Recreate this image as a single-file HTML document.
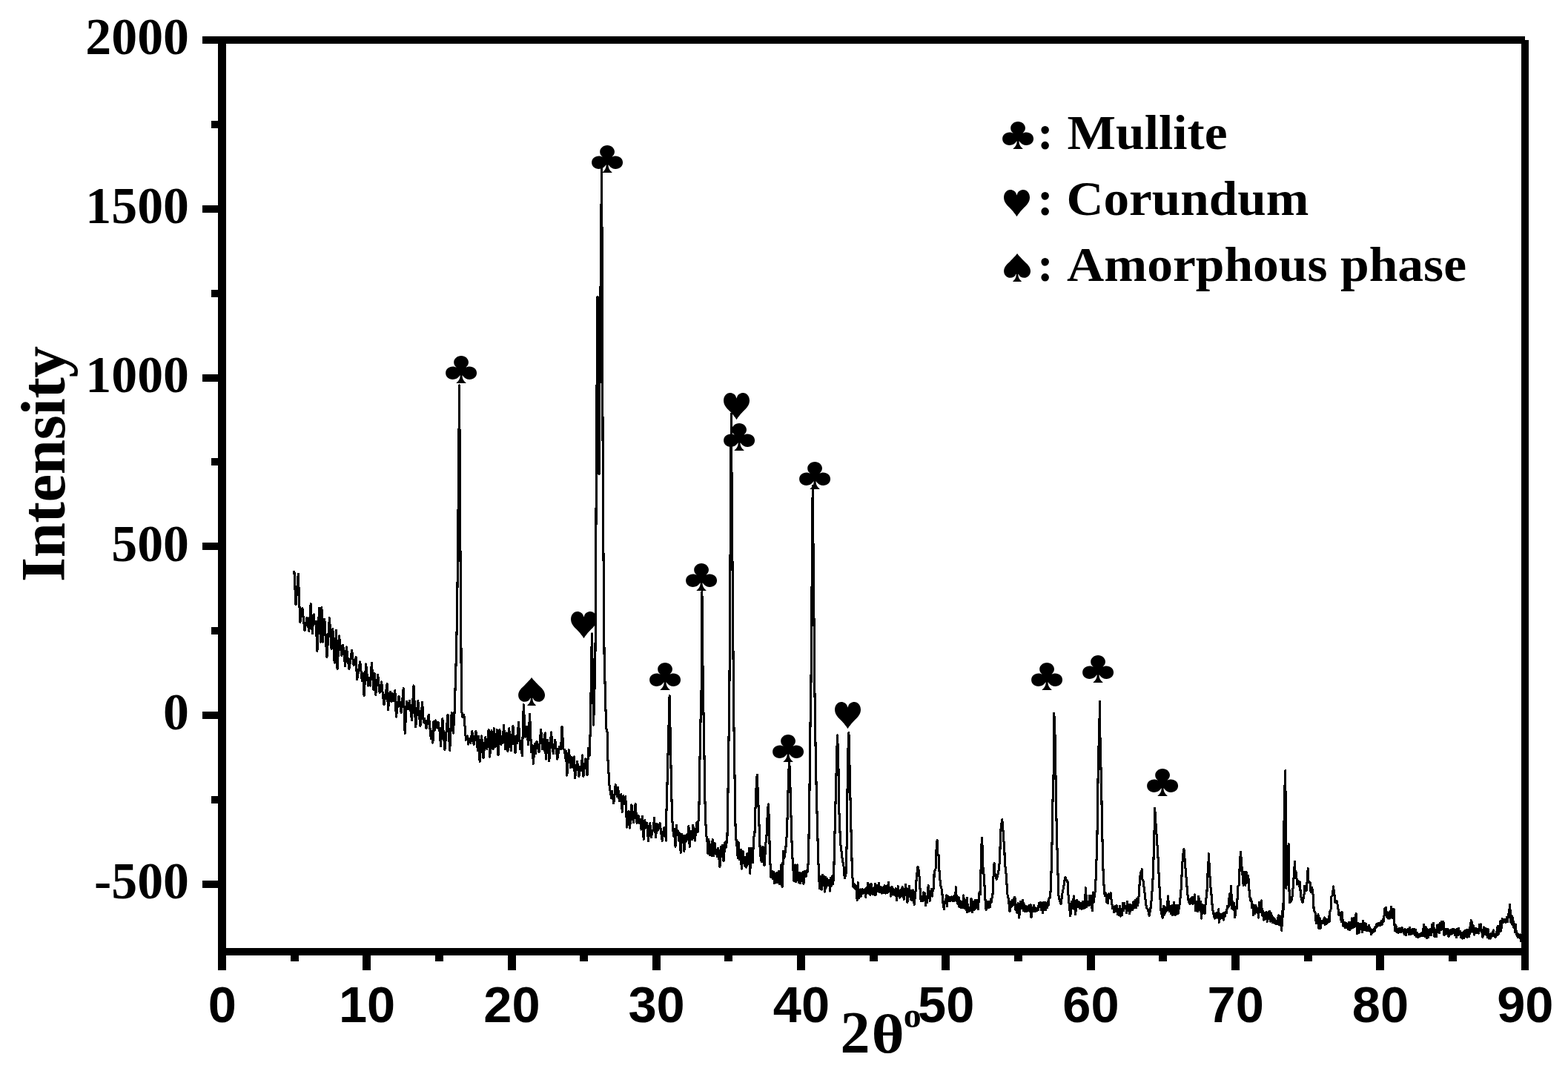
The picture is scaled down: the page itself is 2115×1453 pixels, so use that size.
<!DOCTYPE html>
<html lang="en"><head><meta charset="utf-8"><title>XRD pattern</title>
<style>html,body{margin:0;padding:0;background:#fff}svg{display:block}</style></head>
<body>
<svg width="2115" height="1453" viewBox="0 0 2115 1453">
<rect x="0" y="0" width="2115" height="1453" fill="#fff"/>
<polyline points="396.9,771.1 399.0,815.6 402.3,774.2 404.8,839.4 407.9,820.7 411.0,850.7 414.1,833.1 416.8,851.7 419.2,814.5 421.3,854.8 423.1,828.9 424.5,841.4 426.2,838.2 427.9,878.6 430.6,820.7 432.7,866.2 433.9,819.6 435.3,866.2 437.8,835.1 440.9,886.8 444.4,833.7 447.1,875.5 448.8,848.5 451.2,894.1 453.6,850.6 455.1,902.9 457.4,857.8 460.9,884.8 462.6,870.2 465.7,898.8 467.3,872.9 470.9,902.9 474.6,877.5 477.0,897.2 480.1,886.7 481.6,916.8 485.7,892.9 488.4,918.8 489.8,908.4 491.1,938.5 493.6,896.0 496.7,925.0 498.1,914.6 499.3,925.0 501.4,894.4 503.9,930.2 505.2,908.4 506.7,937.4 509.7,910.1 512.1,934.3 514.6,919.8 517.9,950.9 522.1,922.9 523.5,957.5 526.2,933.2 527.8,946.7 529.0,935.3 530.4,945.7 532.8,931.6 534.4,967.0 538.0,939.4 541.1,961.2 544.2,928.7 546.2,989.7 548.5,946.6 550.1,957.0 552.4,945.6 555.5,971.5 558.0,924.9 560.7,980.8 563.8,945.6 566.9,979.8 569.6,947.7 571.3,974.6 572.7,969.3 575.1,982.9 578.2,964.2 581.3,996.3 582.9,986.9 583.9,1002.1 584.8,973.5 586.1,986.0 587.8,972.0 589.3,981.8 591.0,974.5 592.3,986.0 593.1,982.8 594.4,1006.6 596.8,969.3 599.9,1011.8 604.0,964.6 606.7,1012.4 609.2,961.7 611.3,989.1 613.0,962.0 614.5,915.0 615.5,880.0 616.5,830.0 617.5,750.0 619.6,520.0 621.0,750.0 622.0,880.0 622.3,953.0 622.7,957.9 623.6,967.3 625.8,964.1 628.5,998.3 630.3,993.0 631.7,1004.0 633.3,996.1 634.8,1002.4 636.8,986.8 639.2,1004.5 641.9,986.8 644.4,1012.7 645.8,993.0 647.1,1027.6 649.6,993.0 652.0,1022.6 654.7,994.7 656.8,1010.6 659.1,984.7 660.7,1021.0 663.0,985.8 665.0,1010.6 666.3,982.7 668.1,1007.6 670.5,984.7 672.0,1018.9 673.9,984.7 675.8,1004.5 677.0,993.0 678.2,1002.4 679.5,978.1 681.6,1010.6 683.6,988.9 684.9,1013.7 686.7,982.7 689.4,1012.7 691.9,979.6 695.0,1015.8 696.5,993.0 697.6,1002.4 699.5,974.4 701.6,1010.6 702.8,999.2 704.3,1019.9 706.3,950.7 708.4,994.1 710.5,980.6 712.5,1004.5 714.6,963.7 716.7,1014.8 718.1,1005.4 719.4,1030.3 721.2,1003.3 722.5,1016.8 723.9,1000.2 727.0,1014.8 729.7,984.3 731.5,1010.6 732.8,997.1 734.1,1012.7 735.1,988.9 736.3,1024.1 738.8,998.2 740.8,1026.8 743.5,987.8 746.2,1016.8 748.7,998.2 751.8,1024.1 754.4,1007.5 756.6,1010.6 758.0,980.6 760.0,1010.6 761.6,1011.6 762.6,1023.0 763.5,1013.6 764.8,1046.2 767.3,1011.6 769.6,1035.4 771.1,1021.9 772.8,1035.4 774.1,1020.9 775.5,1049.9 778.6,1027.1 780.9,1047.8 782.5,1034.3 784.2,1039.6 785.4,1018.8 786.9,1047.8 789.6,1024.0 792.0,1045.8 793.7,1009.5 795.0,1020.0 796.5,980.0 797.5,900.0 798.4,855.0 799.5,920.0 800.6,978.0 802.8,900.0 803.6,800.0 804.0,700.0 804.5,600.0 805.2,500.0 806.0,400.0 807.0,520.0 808.0,640.0 809.5,450.0 811.5,227.0 812.5,400.0 813.3,680.0 814.5,800.0 815.0,880.0 816.8,952.0 817.8,983.0 819.2,988.0 819.9,1024.0 822.0,1060.0 824.0,1072.0 824.6,1076.7 825.5,1067.3 827.8,1084.0 830.2,1058.7 832.3,1074.7 833.6,1062.2 835.4,1080.9 837.7,1071.5 839.3,1095.3 840.9,1073.5 842.2,1085.0 843.7,1074.6 845.7,1116.0 848.0,1094.2 849.6,1117.0 851.9,1085.9 854.4,1109.8 857.1,1084.9 859.1,1110.8 861.2,1100.4 862.5,1110.8 863.6,1105.5 865.0,1119.1 866.6,1101.4 868.2,1132.5 869.7,1106.6 871.3,1116.0 872.8,1110.7 874.4,1134.5 876.7,1110.7 878.5,1129.4 879.8,1121.0 881.2,1120.1 882.5,1103.5 884.5,1129.4 886.3,1111.7 887.7,1120.1 890.1,1110.7 893.2,1134.5 895.7,1116.9 896.9,1128.3 898.1,1114.8 898.6,1126.3 898.2,1111.1 898.6,1124.7 898.2,1103.9 898.6,1128.8 898.2,1111.1 898.6,1122.6 898.2,1111.1 898.6,1128.8 898.4,1111.1 898.4,1134.0 898.4,1117.3 898.2,1126.7 898.6,1115.3 898.6,1105.5 899.6,1074.5 900.6,1033.2 901.7,991.9 903.1,938.7 904.6,1012.6 905.4,1053.9 906.4,1095.2 907.3,1115.8 908.3,1124.1 909.0,1128.8 909.7,1118.4 911.0,1142.2 912.5,1113.2 913.6,1126.7 914.9,1121.5 916.1,1135.0 917.0,1124.6 918.2,1150.5 919.7,1125.6 920.9,1137.0 921.7,1127.7 922.9,1148.4 924.4,1127.7 925.7,1135.0 926.9,1125.6 928.1,1132.9 928.9,1114.2 930.2,1142.2 932.0,1121.5 933.3,1132.9 934.7,1113.2 937.4,1134.0 939.9,1109.1 941.2,1122.6 941.9,1108.0 942.6,1105.5 943.2,1074.5 943.8,1033.2 944.6,991.9 945.5,950.6 946.1,930.0 946.9,798.0 948.3,930.0 949.2,971.3 950.2,1033.2 950.8,1074.5 951.6,1105.5 952.7,1126.2 953.9,1133.4 954.9,1151.5 955.9,1132.8 957.4,1153.6 958.7,1140.0 960.0,1154.6 961.1,1132.8 962.6,1154.6 964.1,1137.0 965.2,1151.5 966.2,1146.2 967.2,1155.6 968.8,1144.2 970.9,1169.7 972.8,1142.1 973.9,1155.6 974.8,1140.0 976.0,1161.8 978.1,1135.9 979.6,1143.2 980.3,1133.9 980.8,1136.5 981.6,1095.2 982.2,1053.9 982.8,1012.6 983.9,930.0 986.3,558.0 989.4,930.0 989.8,971.3 990.5,1012.6 991.1,1053.9 991.5,1095.2 992.1,1115.8 993.2,1136.5 994.6,1144.7 995.2,1157.7 996.0,1135.9 997.7,1159.8 999.2,1146.2 1000.3,1172.2 1002.2,1148.3 1004.3,1168.0 1005.9,1156.6 1006.9,1170.1 1007.8,1151.4 1009.0,1166.0 1010.5,1144.2 1011.7,1178.3 1013.2,1144.2 1015.2,1163.9 1016.7,1129.7 1017.9,1126.2 1018.8,1095.2 1020.0,1064.2 1021.2,1045.2 1022.5,1074.5 1023.5,1099.3 1024.5,1126.2 1025.2,1146.8 1026.2,1157.1 1027.2,1162.9 1029.1,1142.1 1031.1,1168.0 1032.8,1138.0 1033.8,1132.4 1034.9,1105.5 1036.3,1084.9 1037.3,1105.5 1038.0,1136.5 1038.6,1157.1 1039.4,1173.7 1040.0,1184.0 1040.7,1183.5 1041.4,1175.2 1042.6,1185.6 1043.6,1176.2 1044.6,1191.8 1045.8,1178.2 1047.1,1190.7 1048.2,1177.2 1049.2,1190.7 1050.2,1175.2 1051.8,1192.8 1053.9,1166.9 1055.1,1196.9 1056.5,1148.3 1058.0,1157.1 1059.6,1146.8 1061.3,1126.2 1062.3,1095.2 1063.4,1053.9 1064.6,1024.0 1065.8,1053.9 1066.5,1086.9 1067.5,1115.8 1068.3,1146.8 1069.6,1167.5 1071.0,1188.7 1072.5,1166.9 1073.6,1189.7 1075.1,1166.9 1077.2,1190.7 1078.7,1177.2 1079.8,1191.8 1080.8,1178.2 1081.8,1186.6 1082.9,1176.2 1083.9,1192.8 1085.5,1175.2 1087.0,1182.5 1088.0,1174.1 1089.0,1176.3 1089.8,1169.0 1090.6,1157.1 1091.2,1115.8 1091.9,1074.5 1092.3,1033.2 1093.1,971.3 1093.9,930.0 1096.2,655.0 1098.9,930.0 1099.5,971.3 1100.3,1022.9 1101.4,1074.5 1102.6,1115.8 1103.6,1157.1 1104.7,1181.9 1105.5,1198.4 1106.3,1199.0 1107.7,1182.4 1108.7,1200.0 1109.7,1180.3 1110.7,1194.9 1111.8,1182.4 1112.8,1203.1 1113.8,1183.4 1114.9,1196.9 1115.8,1185.5 1117.0,1194.9 1118.5,1187.5 1119.7,1202.1 1120.7,1184.4 1121.7,1194.9 1122.8,1181.3 1123.7,1192.8 1124.7,1177.8 1125.7,1136.5 1126.7,1095.2 1127.8,1053.9 1128.8,1012.6 1129.6,991.9 1130.9,1033.2 1131.9,1095.2 1133.6,1136.5 1136.0,1157.1 1138.1,1169.5 1139.3,1185.0 1141.2,1177.8 1142.2,1136.5 1142.9,1074.5 1143.9,1012.6 1144.9,988.6 1146.0,1033.2 1147.4,1095.2 1148.4,1136.5 1149.5,1177.8 1150.9,1196.4 1152.1,1192.7 1153.0,1199.0 1154.6,1194.8 1156.2,1214.5 1157.2,1190.6 1158.8,1211.4 1160.2,1199.9 1161.5,1209.3 1163.1,1199.9 1164.7,1205.2 1166.4,1199.9 1167.7,1210.4 1168.6,1197.9 1169.6,1205.2 1170.6,1191.7 1171.7,1205.2 1172.6,1193.7 1173.9,1207.3 1175.5,1192.7 1177.1,1206.2 1178.8,1197.9 1180.0,1207.3 1180.5,1192.5 1181.5,1207.0 1182.8,1194.6 1184.1,1202.9 1185.5,1191.5 1186.8,1204.0 1188.2,1196.6 1189.5,1205.0 1190.7,1197.7 1191.9,1205.0 1193.1,1194.6 1194.4,1205.0 1195.8,1195.6 1197.1,1205.0 1198.3,1190.4 1199.5,1202.9 1200.6,1197.7 1201.8,1209.1 1203.1,1196.6 1204.3,1207.0 1205.5,1199.7 1206.8,1207.0 1208.2,1198.7 1209.5,1214.9 1211.3,1195.6 1213.4,1211.2 1214.7,1200.8 1215.8,1209.1 1217.1,1196.6 1219.2,1213.2 1221.6,1193.5 1223.9,1217.4 1226.4,1195.6 1228.3,1213.2 1229.4,1201.8 1230.4,1214.3 1231.5,1200.8 1233.2,1220.5 1235.4,1198.2 1236.4,1181.7 1237.8,1171.0 1238.1,1169.3 1239.5,1175.5 1240.6,1190.0 1241.4,1206.5 1242.2,1215.8 1243.7,1210.0 1244.6,1215.3 1245.5,1203.9 1246.5,1214.3 1247.6,1204.9 1248.6,1221.5 1249.6,1210.0 1250.7,1217.4 1252.2,1194.6 1254.3,1215.3 1256.3,1199.7 1257.4,1209.1 1258.2,1199.7 1259.7,1198.2 1260.1,1177.6 1262.2,1171.4 1262.8,1148.7 1264.1,1133.6 1264.1,1144.5 1264.9,1153.8 1266.2,1153.8 1266.6,1169.3 1267.8,1185.8 1269.1,1196.2 1270.7,1201.3 1271.5,1214.7 1273.3,1226.7 1274.4,1216.2 1275.4,1217.4 1276.5,1208.0 1277.5,1222.5 1278.6,1209.0 1279.9,1215.3 1281.1,1210.0 1282.5,1215.3 1283.8,1210.0 1285.1,1215.3 1286.3,1209.0 1287.5,1215.3 1288.3,1212.1 1288.7,1213.2 1289.3,1196.6 1290.0,1215.3 1290.8,1208.0 1292.0,1219.4 1293.0,1210.0 1294.0,1223.6 1295.1,1215.2 1296.4,1224.6 1297.6,1216.2 1298.5,1224.6 1299.7,1208.0 1301.2,1225.6 1302.4,1214.2 1303.4,1227.7 1304.3,1211.1 1304.8,1230.8 1305.7,1220.4 1306.8,1229.8 1307.9,1224.5 1308.8,1228.7 1310.0,1212.1 1311.4,1230.8 1312.7,1216.2 1314.0,1227.7 1315.2,1214.2 1316.2,1225.6 1317.4,1214.2 1319.3,1226.7 1321.0,1203.9 1322.5,1206.5 1323.1,1171.4 1323.7,1144.5 1324.5,1130.5 1325.2,1144.5 1326.0,1171.4 1327.3,1181.7 1328.1,1196.2 1328.9,1212.7 1330.0,1227.1 1331.2,1225.6 1332.2,1216.2 1333.3,1224.6 1334.3,1216.2 1335.4,1223.6 1336.3,1213.1 1337.1,1217.4 1337.9,1212.1 1339.0,1206.5 1339.8,1185.8 1341.1,1164.6 1341.3,1175.5 1344.3,1186.5 1346.9,1175.5 1348.5,1161.1 1349.3,1134.2 1350.2,1115.6 1351.4,1108.4 1351.7,1105.7 1352.7,1115.6 1353.7,1132.1 1354.8,1144.5 1355.4,1165.2 1356.8,1175.5 1357.8,1190.0 1358.9,1206.5 1360.3,1212.7 1362.1,1229.8 1363.2,1216.2 1364.2,1223.6 1365.3,1214.2 1366.3,1221.5 1367.3,1212.1 1368.0,1220.5 1368.9,1210.0 1370.0,1227.7 1371.0,1220.4 1372.1,1231.8 1373.1,1218.3 1374.7,1238.0 1376.7,1216.2 1378.6,1225.6 1379.8,1214.2 1380.7,1228.7 1381.8,1220.4 1382.8,1229.8 1383.8,1222.4 1384.9,1229.8 1385.9,1223.5 1386.9,1228.7 1388.0,1221.4 1389.0,1229.8 1390.0,1220.4 1391.0,1238.0 1392.2,1224.5 1393.4,1229.8 1394.7,1221.4 1396.2,1229.8 1397.3,1225.5 1398.3,1228.7 1399.3,1225.5 1400.4,1227.7 1401.4,1218.3 1402.4,1223.6 1403.5,1217.3 1404.5,1227.7 1405.5,1218.3 1406.6,1231.8 1407.6,1217.3 1408.6,1227.7 1409.7,1217.3 1410.7,1227.7 1411.7,1218.3 1412.8,1224.6 1413.7,1216.2 1414.3,1221.5 1415.1,1211.1 1416.7,1210.6 1417.7,1185.8 1418.5,1161.1 1419.1,1134.2 1419.7,1092.9 1420.6,1057.8 1421.2,1041.3 1421.8,1000.0 1421.8,962.0 1423.3,1000.0 1423.9,1041.3 1424.7,1092.9 1425.7,1134.2 1426.6,1165.2 1427.2,1185.8 1427.6,1204.4 1428.2,1210.6 1431.1,1219.9 1432.7,1206.5 1434.8,1196.2 1436.2,1185.8 1437.2,1183.4 1438.5,1187.9 1440.0,1188.9 1440.6,1202.4 1441.6,1214.7 1443.8,1236.0 1445.2,1216.2 1446.4,1225.6 1448.5,1209.0 1450.6,1233.9 1452.6,1214.2 1453.9,1223.6 1455.1,1216.2 1456.4,1225.6 1457.6,1218.3 1458.9,1226.7 1460.3,1216.2 1461.5,1225.6 1462.5,1217.3 1463.4,1224.6 1464.4,1197.7 1465.9,1223.6 1467.1,1216.2 1468.6,1221.5 1469.8,1208.0 1470.7,1220.5 1471.8,1208.0 1473.3,1228.7 1474.3,1203.9 1475.2,1217.4 1477.1,1202.4 1478.1,1185.8 1479.2,1154.9 1480.0,1123.9 1480.6,1082.6 1481.2,1041.3 1481.8,1010.3 1482.5,1000.0 1483.5,946.5 1484.0,1000.0 1484.6,1020.6 1485.4,1051.6 1486.0,1082.6 1486.8,1123.9 1487.7,1165.2 1488.5,1185.8 1489.3,1198.2 1490.2,1208.5 1491.8,1204.9 1492.8,1217.4 1493.5,1208.0 1494.4,1218.4 1495.4,1205.9 1496.6,1211.2 1498.2,1204.9 1499.2,1215.3 1499.7,1218.3 1500.6,1225.6 1501.6,1223.5 1502.8,1230.8 1504.1,1222.4 1505.3,1229.8 1506.2,1221.4 1507.3,1233.9 1508.3,1226.6 1509.3,1234.9 1510.4,1222.4 1511.4,1236.0 1512.4,1226.6 1513.5,1234.9 1514.5,1218.3 1515.5,1228.7 1516.6,1218.3 1517.6,1225.6 1518.6,1222.4 1519.7,1231.8 1520.7,1216.2 1521.7,1228.7 1522.8,1220.4 1523.8,1232.9 1524.8,1220.4 1525.9,1227.7 1526.9,1221.4 1527.9,1227.7 1528.9,1216.2 1530.1,1224.6 1531.6,1214.2 1532.7,1224.6 1533.7,1212.1 1534.7,1221.5 1536.4,1206.5 1537.4,1185.8 1538.6,1177.6 1540.1,1174.5 1540.1,1172.4 1540.7,1185.8 1542.2,1188.9 1543.2,1198.2 1544.3,1206.5 1545.5,1218.9 1546.9,1225.1 1548.4,1227.1 1550.1,1235.4 1551.8,1227.1 1553.1,1214.7 1554.5,1196.2 1555.6,1175.5 1556.6,1134.2 1557.6,1103.2 1557.7,1090.4 1558.7,1107.4 1559.9,1123.9 1561.0,1140.4 1562.0,1156.9 1563.0,1177.6 1564.1,1198.2 1565.1,1214.7 1566.1,1229.2 1568.1,1238.5 1569.3,1222.4 1570.1,1234.9 1570.9,1223.5 1571.8,1231.8 1572.9,1224.5 1574.0,1228.7 1575.5,1209.0 1577.2,1229.8 1578.7,1222.4 1579.7,1232.9 1580.8,1221.4 1581.8,1234.9 1583.4,1217.3 1584.9,1234.9 1585.9,1221.4 1587.0,1233.9 1588.0,1221.4 1589.1,1232.9 1590.0,1222.4 1590.6,1225.6 1591.4,1216.2 1592.7,1206.5 1593.8,1185.8 1594.8,1165.2 1595.8,1152.8 1596.9,1147.6 1596.9,1145.8 1597.9,1156.9 1599.0,1171.4 1600.2,1185.8 1601.2,1198.2 1602.3,1210.6 1603.3,1215.8 1604.9,1219.4 1606.0,1212.1 1607.0,1218.4 1608.0,1210.0 1609.1,1219.4 1610.0,1210.0 1610.6,1217.4 1611.4,1207.0 1612.7,1228.7 1614.2,1216.2 1615.3,1229.8 1616.8,1209.0 1618.4,1227.7 1619.3,1216.2 1620.5,1239.1 1622.1,1220.4 1623.1,1230.8 1624.2,1221.4 1625.1,1232.9 1626.3,1216.2 1627.8,1206.5 1628.7,1185.8 1629.5,1169.3 1630.3,1159.0 1630.3,1151.6 1631.0,1165.2 1631.8,1179.6 1632.6,1194.1 1633.7,1202.4 1634.7,1216.8 1635.7,1227.1 1636.8,1233.3 1638.4,1239.1 1639.4,1232.8 1640.4,1238.0 1641.5,1231.7 1642.8,1234.9 1643.7,1226.6 1644.2,1244.2 1645.1,1232.8 1646.2,1239.1 1647.3,1233.8 1648.3,1238.0 1649.3,1232.8 1650.4,1241.1 1651.4,1231.7 1652.4,1236.0 1653.5,1230.7 1654.5,1231.8 1655.5,1222.4 1657.1,1223.6 1658.5,1205.9 1659.7,1220.5 1660.6,1195.6 1661.7,1225.6 1662.8,1216.2 1663.8,1227.7 1664.8,1218.3 1665.8,1238.0 1666.9,1224.5 1668.4,1225.6 1669.9,1195.6 1671.6,1194.1 1672.2,1165.2 1673.3,1152.8 1673.5,1149.3 1674.5,1165.2 1675.6,1175.5 1677.2,1194.7 1678.2,1176.0 1679.8,1194.7 1681.3,1176.6 1682.4,1190.5 1683.6,1181.1 1684.2,1188.5 1684.2,1185.8 1685.3,1206.5 1686.7,1214.7 1687.8,1213.2 1688.7,1224.7 1689.8,1220.4 1690.8,1235.0 1691.9,1221.5 1692.9,1232.9 1693.9,1221.5 1695.0,1230.9 1696.4,1225.6 1697.5,1238.1 1698.5,1217.3 1699.5,1230.9 1701.3,1214.9 1702.6,1235.0 1703.6,1229.7 1704.7,1241.2 1705.7,1231.8 1706.7,1240.1 1707.8,1230.8 1709.3,1243.2 1710.5,1230.8 1711.5,1239.1 1712.5,1229.3 1713.5,1243.2 1714.7,1231.8 1716.1,1244.3 1717.4,1238.0 1718.7,1245.3 1719.8,1240.0 1720.7,1246.3 1721.9,1242.1 1723.2,1246.3 1724.3,1234.9 1725.3,1247.4 1726.4,1235.9 1727.5,1248.4 1728.3,1235.9 1728.8,1255.6 1729.5,1229.7 1730.9,1236.5 1731.5,1170.4 1732.3,1079.6 1733.8,1039.3 1733.8,1039.3 1734.0,1075.4 1734.4,1137.4 1734.6,1198.3 1737.1,1174.5 1738.1,1138.4 1738.1,1160.1 1738.8,1195.2 1739.6,1217.9 1742.6,1213.8 1744.3,1195.2 1745.7,1174.5 1746.5,1162.6 1747.0,1174.5 1748.5,1177.6 1749.5,1193.1 1751.2,1189.0 1752.3,1195.2 1753.2,1190.0 1754.7,1209.6 1757.1,1217.9 1759.2,1205.5 1759.8,1195.2 1759.8,1201.4 1762.3,1201.4 1763.3,1186.9 1764.2,1171.4 1765.0,1189.0 1767.1,1191.1 1768.1,1203.4 1769.7,1197.3 1771.2,1207.6 1772.2,1228.2 1773.9,1230.3 1775.3,1245.8 1776.9,1245.3 1778.0,1233.9 1779.0,1252.5 1780.0,1238.0 1781.1,1252.5 1782.1,1242.1 1783.1,1245.3 1784.2,1242.1 1785.2,1245.3 1786.2,1238.0 1787.3,1247.4 1788.3,1240.0 1789.3,1246.3 1790.4,1242.1 1791.4,1244.3 1792.4,1235.9 1793.1,1243.2 1794.0,1229.7 1795.3,1226.2 1795.9,1209.6 1797.4,1207.6 1798.4,1197.3 1798.4,1195.8 1800.1,1207.6 1801.1,1217.9 1803.2,1215.8 1804.8,1224.1 1805.7,1234.4 1807.1,1235.0 1808.1,1231.8 1809.2,1243.2 1810.2,1230.8 1811.7,1249.4 1813.3,1244.2 1814.3,1251.5 1815.3,1245.2 1816.4,1251.5 1817.4,1246.2 1818.4,1253.6 1819.5,1244.2 1820.5,1254.6 1821.5,1244.2 1822.6,1252.5 1823.6,1239.0 1824.7,1251.5 1826.0,1238.0 1827.2,1250.5 1829.1,1232.8 1830.6,1259.8 1831.7,1245.2 1833.2,1258.7 1834.4,1246.2 1835.4,1253.6 1836.4,1246.2 1837.4,1257.7 1838.5,1242.1 1839.5,1254.6 1840.5,1245.2 1841.6,1254.6 1842.6,1246.2 1843.6,1255.6 1844.7,1250.4 1845.7,1255.6 1846.7,1248.3 1847.8,1256.7 1848.8,1253.5 1849.8,1260.8 1850.9,1254.5 1851.9,1257.7 1852.9,1253.5 1854.0,1256.7 1855.0,1250.4 1856.0,1251.5 1857.1,1246.2 1858.1,1249.4 1859.1,1245.2 1860.2,1248.4 1861.2,1245.2 1862.2,1248.4 1863.3,1242.1 1864.3,1247.4 1865.3,1240.0 1866.1,1243.2 1866.8,1235.9 1867.2,1235.0 1867.8,1225.6 1868.5,1232.9 1869.4,1224.6 1870.5,1237.0 1871.5,1230.8 1872.5,1239.1 1873.6,1230.8 1874.7,1239.1 1875.5,1229.7 1875.8,1237.0 1876.5,1223.5 1877.8,1238.1 1878.7,1226.6 1879.5,1239.1 1880.3,1226.6 1881.3,1255.6 1882.9,1248.3 1883.9,1257.7 1884.9,1253.5 1886.0,1258.7 1887.0,1252.4 1888.0,1257.7 1889.1,1252.4 1890.1,1257.7 1891.1,1251.4 1892.2,1256.7 1893.2,1254.5 1894.2,1260.8 1895.3,1253.5 1896.3,1261.8 1897.3,1254.5 1898.4,1257.7 1899.4,1253.5 1900.4,1260.8 1901.5,1251.4 1902.5,1260.8 1903.5,1254.5 1904.6,1259.8 1905.6,1253.5 1906.6,1259.8 1907.6,1253.5 1908.7,1261.8 1909.7,1254.5 1910.7,1263.9 1911.8,1258.6 1912.8,1264.9 1913.8,1260.7 1914.9,1263.9 1915.9,1259.7 1916.9,1262.9 1918.0,1258.6 1919.0,1262.9 1920.6,1247.3 1922.1,1263.9 1923.1,1250.4 1924.2,1266.0 1925.2,1253.5 1926.2,1264.9 1927.3,1254.5 1928.3,1261.8 1929.3,1253.5 1930.4,1261.8 1931.4,1247.3 1932.4,1257.7 1933.5,1245.2 1935.0,1263.9 1936.6,1254.5 1937.6,1263.9 1938.6,1248.3 1939.7,1257.7 1940.7,1247.3 1941.7,1258.7 1942.8,1245.2 1943.8,1254.6 1944.8,1243.1 1945.8,1253.6 1946.9,1243.1 1947.9,1261.8 1948.9,1253.5 1950.0,1260.8 1951.0,1253.5 1952.0,1257.7 1953.1,1253.5 1954.1,1263.9 1955.1,1255.5 1956.2,1260.8 1957.2,1254.5 1958.2,1259.8 1959.3,1253.5 1960.3,1258.7 1961.3,1253.5 1962.4,1261.8 1963.4,1254.5 1964.4,1264.9 1965.5,1253.5 1966.5,1261.8 1967.5,1252.4 1968.6,1260.8 1969.6,1256.6 1970.6,1264.9 1971.7,1258.6 1972.7,1266.0 1973.7,1257.6 1974.8,1266.0 1975.8,1255.5 1976.8,1263.9 1978.1,1254.5 1978.7,1262.9 1978.5,1254.2 1979.2,1264.4 1980.8,1254.2 1981.8,1264.0 1982.5,1251.7 1983.4,1257.8 1984.2,1241.8 1985.0,1256.1 1985.8,1244.3 1986.7,1257.0 1987.5,1249.2 1988.3,1261.1 1989.1,1252.5 1990.0,1258.6 1991.1,1252.5 1992.1,1259.0 1993.1,1253.4 1994.3,1259.0 1995.6,1247.6 1996.7,1255.3 1997.4,1246.8 1998.2,1257.8 1999.1,1254.2 1999.9,1264.4 2000.8,1254.2 2001.5,1261.1 2001.9,1250.9 2002.8,1260.3 2004.0,1252.5 2004.9,1261.9 2005.7,1253.8 2006.5,1264.4 2007.2,1253.8 2008.2,1266.1 2009.6,1260.8 2010.8,1266.1 2011.7,1259.1 2012.8,1262.7 2014.2,1255.0 2015.3,1262.7 2015.9,1260.8 2016.9,1264.8 2018.4,1257.5 2019.4,1261.9 2020.1,1249.6 2021.0,1261.1 2022.1,1249.6 2023.1,1256.1 2023.8,1242.6 2024.7,1256.1 2026.3,1239.7 2028.1,1244.6 2029.5,1240.6 2031.1,1244.2 2032.3,1237.7 2033.3,1243.8 2034.2,1235.2 2034.7,1238.0 2035.3,1227.8 2035.9,1238.0 2036.6,1220.7 2037.9,1244.6 2039.1,1235.6 2039.9,1247.1 2040.7,1238.5 2041.6,1251.2 2042.8,1246.8 2043.7,1257.8 2044.5,1247.6 2045.3,1261.1 2046.0,1258.3 2047.1,1264.4 2048.5,1260.8 2049.6,1265.2 2050.5,1260.8 2051.7,1269.4" fill="none" stroke="#000" stroke-width="3.1" stroke-linejoin="round" stroke-linecap="square" shape-rendering="crispEdges"/>
<g fill="#000" shape-rendering="crispEdges">
<rect x="273" y="49" width="1784" height="10"/>
<rect x="294" y="54" width="11" height="1255"/>
<rect x="2052" y="54" width="10" height="1255"/>
<rect x="294" y="1279" width="1768" height="10"/>
<rect x="273" y="277" width="22" height="10"/>
<rect x="273" y="505" width="22" height="10"/>
<rect x="273" y="732" width="22" height="10"/>
<rect x="273" y="960" width="22" height="10"/>
<rect x="273" y="1188" width="22" height="10"/>
<rect x="285" y="163" width="10" height="10"/>
<rect x="285" y="391" width="10" height="10"/>
<rect x="285" y="618" width="10" height="10"/>
<rect x="285" y="846" width="10" height="10"/>
<rect x="285" y="1074" width="10" height="10"/>
<rect x="489" y="1288" width="11" height="21"/>
<rect x="685" y="1288" width="11" height="21"/>
<rect x="880" y="1288" width="11" height="21"/>
<rect x="1075" y="1288" width="11" height="21"/>
<rect x="1270" y="1288" width="11" height="21"/>
<rect x="1466" y="1288" width="11" height="21"/>
<rect x="1661" y="1288" width="11" height="21"/>
<rect x="1856" y="1288" width="11" height="21"/>
<rect x="392" y="1288" width="11" height="9"/>
<rect x="587" y="1288" width="11" height="9"/>
<rect x="782" y="1288" width="11" height="9"/>
<rect x="977" y="1288" width="11" height="9"/>
<rect x="1173" y="1288" width="11" height="9"/>
<rect x="1368" y="1288" width="11" height="9"/>
<rect x="1563" y="1288" width="11" height="9"/>
<rect x="1759" y="1288" width="11" height="9"/>
<rect x="1954" y="1288" width="11" height="9"/>
</g>
<g font-family="'Liberation Serif', serif" font-weight="bold" font-size="69" text-anchor="end" fill="#000">
<text transform="translate(255.0,73.3) scale(1.012,1)">2000</text>
<text transform="translate(255.0,301.1) scale(1.012,1)">1500</text>
<text transform="translate(255.0,528.8) scale(1.012,1)">1000</text>
<text transform="translate(255.0,756.5) scale(1.012,1)">500</text>
<text transform="translate(255.0,984.3) scale(1.012,1)">0</text>
<text transform="translate(255.0,1212.0) scale(1.012,1)">-500</text>
</g>
<g font-family="'Liberation Sans', sans-serif" font-weight="bold" font-size="68.6" text-anchor="middle" fill="#000">
<text x="299.8" y="1379">0</text>
<text x="495.1" y="1379">10</text>
<text x="690.4" y="1379">20</text>
<text x="885.6" y="1379">30</text>
<text x="1080.9" y="1379">40</text>
<text x="1276.2" y="1379">50</text>
<text x="1471.5" y="1379">60</text>
<text x="1666.7" y="1379">70</text>
<text x="1862.0" y="1379">80</text>
<text x="2057.3" y="1379">90</text>
</g>
<text transform="translate(86.7,785) rotate(-90)" font-family="'Liberation Serif', serif" font-weight="bold" font-size="85" fill="#000" textLength="318" lengthAdjust="spacing">Intensity</text>
<text font-family="'Liberation Serif', serif" font-weight="bold" fill="#000"><tspan x="1133.6" y="1420" font-size="80">2</tspan><tspan x="1175.5" y="1420.4" font-size="74" textLength="44.4" lengthAdjust="spacingAndGlyphs">θ</tspan><tspan x="1218.8" y="1386" font-size="48">o</tspan></text>
<g font-family="'Liberation Serif', serif" font-weight="bold" font-size="65.5" fill="#000">
<text y="201"><tspan x="1399">: </tspan><tspan x="1439.5" textLength="216" lengthAdjust="spacingAndGlyphs">Mullite</tspan></text>
<text y="290"><tspan x="1399">: </tspan><tspan x="1438.5" textLength="327" lengthAdjust="spacingAndGlyphs">Corundum</tspan></text>
<text y="379.3"><tspan x="1399">: </tspan><tspan x="1439" textLength="539" lengthAdjust="spacingAndGlyphs">Amorphous phase</tspan></text>
</g>
<text transform="matrix(0.4817,0,0,0.4277,597.92,515.03)" font-family="'Noto Sans CJK SC', 'DejaVu Sans', sans-serif" font-size="100" fill="#000">♣</text>
<text transform="matrix(0.4817,0,0,0.4277,794.92,231.03)" font-family="'Noto Sans CJK SC', 'DejaVu Sans', sans-serif" font-size="100" fill="#000">♣</text>
<text transform="matrix(0.4817,0,0,0.4277,872.92,929.03)" font-family="'Noto Sans CJK SC', 'DejaVu Sans', sans-serif" font-size="100" fill="#000">♣</text>
<text transform="matrix(0.4817,0,0,0.4277,921.92,795.03)" font-family="'Noto Sans CJK SC', 'DejaVu Sans', sans-serif" font-size="100" fill="#000">♣</text>
<text transform="matrix(0.4817,0,0,0.4277,972.92,606.03)" font-family="'Noto Sans CJK SC', 'DejaVu Sans', sans-serif" font-size="100" fill="#000">♣</text>
<text transform="matrix(0.4817,0,0,0.4277,1038.92,1026.03)" font-family="'Noto Sans CJK SC', 'DejaVu Sans', sans-serif" font-size="100" fill="#000">♣</text>
<text transform="matrix(0.4817,0,0,0.4277,1074.92,658.03)" font-family="'Noto Sans CJK SC', 'DejaVu Sans', sans-serif" font-size="100" fill="#000">♣</text>
<text transform="matrix(0.4817,0,0,0.4277,1387.92,929.03)" font-family="'Noto Sans CJK SC', 'DejaVu Sans', sans-serif" font-size="100" fill="#000">♣</text>
<text transform="matrix(0.4817,0,0,0.4277,1456.92,919.03)" font-family="'Noto Sans CJK SC', 'DejaVu Sans', sans-serif" font-size="100" fill="#000">♣</text>
<text transform="matrix(0.4817,0,0,0.4277,1543.92,1072.03)" font-family="'Noto Sans CJK SC', 'DejaVu Sans', sans-serif" font-size="100" fill="#000">♣</text>
<text transform="matrix(0.4817,0,0,0.4277,1348.92,199.03)" font-family="'Noto Sans CJK SC', 'DejaVu Sans', sans-serif" font-size="100" fill="#000">♣</text>
<text transform="matrix(0.4157,0,0,0.4314,766.72,858.99)" font-family="'Noto Sans CJK SC', 'DejaVu Sans', sans-serif" font-size="100" fill="#000">♥</text>
<text transform="matrix(0.4157,0,0,0.4314,972.72,563.99)" font-family="'Noto Sans CJK SC', 'DejaVu Sans', sans-serif" font-size="100" fill="#000">♥</text>
<text transform="matrix(0.4157,0,0,0.4314,1122.72,980.99)" font-family="'Noto Sans CJK SC', 'DejaVu Sans', sans-serif" font-size="100" fill="#000">♥</text>
<text transform="matrix(0.4157,0,0,0.4314,1350.72,289.99)" font-family="'Noto Sans CJK SC', 'DejaVu Sans', sans-serif" font-size="100" fill="#000">♥</text>
<text transform="matrix(0.4317,0,0,0.4164,695.42,949.99)" font-family="'Noto Sans CJK SC', 'DejaVu Sans', sans-serif" font-size="100" fill="#000">♠</text>
<text transform="matrix(0.4317,0,0,0.4164,1350.42,377.99)" font-family="'Noto Sans CJK SC', 'DejaVu Sans', sans-serif" font-size="100" fill="#000">♠</text>
</svg>
</body></html>
